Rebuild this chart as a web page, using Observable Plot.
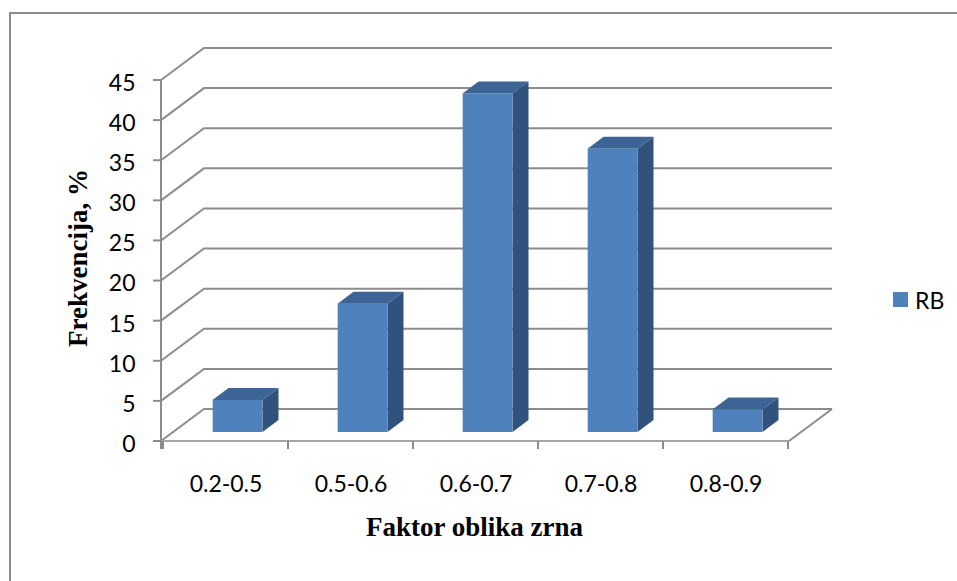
<!DOCTYPE html>
<html>
<head>
<meta charset="utf-8">
<script src="https://cdn.jsdelivr.net/npm/d3@7"></script>
<script src="https://cdn.jsdelivr.net/npm/@observablehq/plot@0.6"></script>
<style>
  html, body { margin: 0; padding: 0; background: #fff; }
  #chart { position: relative; width: 957px; height: 581px; overflow: hidden; background: #fff; }
  #border { position: absolute; left: 9px; top: 12px; width: 980px; height: 600px;
            border-left: 2px solid #8c8c8c; border-top: 2px solid #8c8c8c; box-sizing: border-box; }
  #legend { position: absolute; left: 893px; top: 283px; }
  #legend svg { margin-right: 7px !important; }
  svg { display: block; }
</style>
</head>
<body>
<div id="chart"><div id="border"></div></div>
<script>
// Grain shape factor classes and their frequencies (%)
const categories = ["0.2-0.5", "0.5-0.6", "0.6-0.7", "0.7-0.8", "0.8-0.9"];
const frequency = [4.0, 16.0, 42.2, 35.3, 2.8];
const yTicks = [0, 5, 10, 15, 20, 25, 30, 35, 40, 45];
const seriesName = "RB";
const xTitle = "Faktor oblika zrna";
const yTitle = "Frekvencija, %";

const rows = categories.map((category, i) => ({category, value: frequency[i]}));

// Layout of the plot area
const W = 957, H = 581;
const margin = {left: 161, right: 168, top: 80, bottom: 140};

// Pseudo-3D projection: back wall offset, bar placement within the depth, bar thickness
const wallDepth = {dx: 43, dy: -32};
const barShift = {dx: 12, dy: -9};
const barDepth = {dx: 16, dy: -12};
const barWidthRatio = 0.4;

const colors = {
  front: "#4f81bd",
  top: "#3c6595",
  side: "#30527c",
  grid: "#8c8c8c",
  floor: "#a6a6a6"
};

const band = (W - margin.left - margin.right) / categories.length;
const barInset = band * (1 - barWidthRatio) / 2;

// Back wall gridlines, floor edges, the vertical axis line and tick marks
function wallAndFloor(index, {x, y}, values, {width, marginLeft, marginRight}) {
  const left = marginLeft, right = width - marginRight;
  const bw = x.bandwidth();
  const y0 = y(0), yTop = y(d3.max(yTicks));
  const g = d3.create("svg:g").attr("fill", "none").attr("stroke-width", 2);
  for (const t of yTicks) {
    const py = y(t);
    g.append("path").attr("stroke", colors.grid)
      .attr("d", `M${left},${py}l${wallDepth.dx},${wallDepth.dy}H${right + wallDepth.dx}`);
  }
  g.append("path").attr("stroke", colors.floor)
    .attr("d", `M${left},${y0}H${right}`);
  g.append("path").attr("stroke", colors.grid)
    .attr("d", `M${right},${y0}l${wallDepth.dx},${wallDepth.dy}`);
  g.append("path").attr("stroke", colors.grid)
    .attr("d", `M${left},${yTop}V${y0 + 8}`);
  for (const t of yTicks) {
    g.append("path").attr("stroke", colors.grid)
      .attr("d", `M${left - 8},${y(t)}H${left}`);
  }
  const edges = categories.map(c => x(c)).concat([x(categories[categories.length - 1]) + bw]);
  for (const e of edges) {
    g.append("path").attr("stroke", colors.grid).attr("d", `M${e},${y0}v8`);
  }
  return g.node();
}

// Top and side faces of each bar
function barFaces(index, {x, y}) {
  const bw = x.bandwidth();
  const w = bw * barWidthRatio;
  const g = d3.create("svg:g").attr("stroke", "none");
  for (const d of rows) {
    const x0 = x(d.category) + (bw - w) / 2 + barShift.dx;
    const x1 = x0 + w;
    const yt = y(d.value) + barShift.dy;
    const yb = y(0) + barShift.dy;
    g.append("path").attr("fill", colors.top)
      .attr("d", `M${x0},${yt}L${x1},${yt}l${barDepth.dx},${barDepth.dy}L${x0 + barDepth.dx},${yt + barDepth.dy}Z`);
    g.append("path").attr("fill", colors.side)
      .attr("d", `M${x1},${yt}l${barDepth.dx},${barDepth.dy}L${x1 + barDepth.dx},${yb + barDepth.dy}L${x1},${yb}Z`);
  }
  return g.node();
}

const chart = Plot.plot({
  width: W,
  height: H,
  marginLeft: margin.left,
  marginRight: margin.right,
  marginTop: margin.top,
  marginBottom: margin.bottom,
  style: {fontFamily: "Lato", fontSize: "23px", color: "#000", background: "transparent", overflow: "visible"},
  x: {domain: categories, padding: 0, label: null},
  y: {domain: [0, 45], label: null, axis: null},
  marks: [
    wallAndFloor,
    Plot.barY(rows, {
      x: "category", y: "value", fill: colors.front,
      insetLeft: barInset, insetRight: barInset,
      dx: barShift.dx, dy: barShift.dy
    }),
    barFaces,
    // value labels along the front vertical axis
    Plot.text(yTicks, {
      y: d => d, text: d => String(d), frameAnchor: "left", textAnchor: "end",
      dx: -26, dy: 3, fontSize: 23, fill: "#000"
    }),
    Plot.axisX({tickSize: 0, tickPadding: 34, label: null, fontSize: 23}),
    Plot.text([yTitle], {
      text: d => d, frameAnchor: "left", textAnchor: "middle", rotate: -90, dx: -83, dy: -3,
      fontFamily: "Liberation Serif", fontWeight: "bold", fontSize: 27, fill: "#000"
    }),
    Plot.text([xTitle], {
      text: d => d, frameAnchor: "bottom", textAnchor: "middle", dy: 94, dx: -1,
      fontFamily: "Liberation Serif", fontWeight: "bold", fontSize: 27, fill: "#000"
    })
  ]
});

const container = document.getElementById("chart");
chart.style.position = "absolute";
chart.style.left = "0px";
chart.style.top = "0px";
container.appendChild(chart);

const legend = Plot.legend({
  color: {type: "categorical", domain: [seriesName], range: [colors.front]},
  swatchSize: 15,
  style: {fontFamily: "Lato", fontSize: "23px", color: "#000"}
});
legend.id = "legend";
container.appendChild(legend);
</script>
</body>
</html>
